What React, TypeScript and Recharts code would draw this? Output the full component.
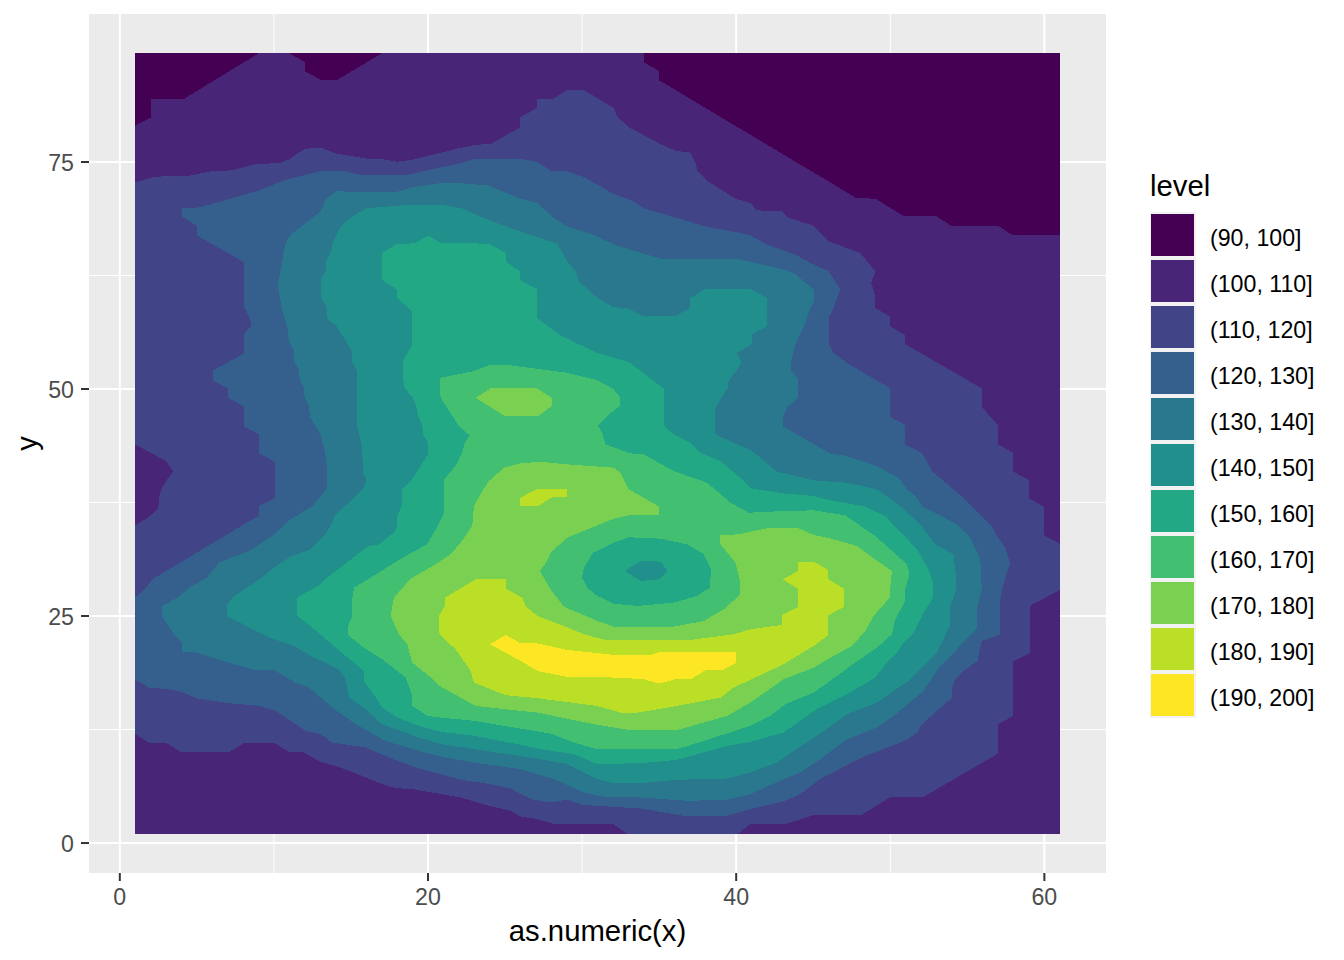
import { ComposedChart, Scatter, XAxis, YAxis, CartesianGrid, Legend } from "recharts";

type Pt = [number, number];

// legend
const levels = ["(90, 100]", "(100, 110]", "(110, 120]", "(120, 130]", "(130, 140]", "(140, 150]", "(150, 160]", "(160, 170]", "(170, 180]", "(180, 190]", "(190, 200]"];
const colors = ["#440154", "#482576", "#414487", "#35608D", "#2A788E", "#21908C", "#22A884", "#43BF71", "#7AD151", "#BBDF27", "#FDE725"];

const xTicks = [0, 20, 40, 60];
const yTicks = [0, 25, 50, 75];
const xMinor = [10, 30, 50];
const yMinor = [12.5, 37.5, 62.5];

// contour outlines, in data units
const whole: Pt[] = [[1, 1], [61, 1], [61, 87], [1, 87]];

const low100Left: Pt[] = [[1, 87], [9.04, 87], [4.17, 81.96], [2, 81.96], [2, 79.9], [1, 79]];
const low100Mid: Pt[] = [[11, 87], [12, 86], [12, 85], [13.04, 84.05], [14.12, 84.05], [17.03, 87]];
const low100Right: Pt[] = [[34, 87], [34, 86], [35, 85], [35, 84], [40.92, 78], [47.8, 71.03], [49.03, 70.96], [50.91, 69], [53, 69], [53.95, 68], [56.96, 68], [57.89, 67], [61, 67], [61, 87]];

const over110: Pt[] = [
  [1, 72.75], [2, 73.27], [3.2, 73.5], [4.5, 73.5], [6, 74], [7.3, 74.08], [8.8, 74.77], [10.33, 74.88], [11, 75.3], [12, 76.46], [13.04, 76.57], [14, 75.95], [16.06, 75.36], [17.03, 75.3], [18, 75.03], [19, 75.25], [20.17, 75.76],
  [21.9, 76.46], [23.09, 76.9], [24.06, 76.97], [26, 78.84], [26, 79.94], [27.05, 80.93], [27.05, 81.96], [28.13, 81.96], [29.03, 82.95], [30.07, 82.95], [32.06, 80.93], [32.28, 80], [33.03, 78.84], [35.09, 76.97], [36.06, 76.24], [37.03, 76.02], [37.36, 74.88], [37.49, 73.97], [38.11, 72.94], [39.95, 70.96], [40.92, 70.48],
  [41.31, 69.75], [41.89, 69.56], [42.97, 69.56], [43.34, 68.9], [44.98, 68], [46, 66.26], [48.05, 64.98], [49.03, 62.96], [48.77, 61.68], [49.03, 60.2], [49.03, 58.93], [50, 57.94], [50, 56.92], [50.97, 55.89], [50.97, 54.94], [55.94, 50.06], [55.94, 48], [56.98, 46.03], [56.98, 43.9], [57.98, 42.98], [57.98, 40.89], [58.99, 39.97], [58.99, 37.96], [59.99, 37.04], [59.99, 33.89], [61, 32.97],
  [61, 27.87], [59.04, 26.1], [59.04, 20.9], [57.98, 19.98], [57.98, 14], [57, 13.09], [57, 9.86], [52.12, 5.06], [50, 5.06], [48.12, 3.08], [45.03, 3.08], [43.19, 2.09], [40.92, 2.09], [40.1, 1], [32.93, 1], [32.02, 2.09],
  [28.17, 2.09], [27.09, 2.64], [26, 2.93], [25.36, 3.55], [23.95, 4.1], [22.12, 5.02], [18.98, 5.94], [17.9, 6.05], [17.03, 6.49], [16.06, 7.15], [14.87, 7.95], [14, 8.5], [13.03, 8.94], [11.95, 9.97], [10.98, 10.04], [10.05, 11], [8.06, 11], [7.09, 10.04], [3.96, 10.04], [3.03, 11], [1.95, 11], [1, 12],
  [1, 34.99], [1.9, 35.94], [2.5, 36.82], [2.55, 38.03], [2.72, 39.13], [3.48, 40.97], [2.98, 42.07], [1, 43.9],
];

const over120: Pt[] = [
  [1, 27.02], [1.69, 28.12], [2.12, 29.05], [8.06, 35.1], [9, 36], [9, 37.1], [10.05, 37.96], [10.05, 41.99], [9.04, 42.9], [9.04, 45], [8.04, 45.9], [8.04, 48.1], [7, 49.03], [7, 50.06], [6.05, 50.98], [6.05, 52.04], [8.04, 53.9], [8.04, 55.99], [8.5, 56.92], [8.5, 57.47], [8.17, 58.75],
  [8.04, 59.1], [8.04, 64], [5, 66.9], [5, 68], [4.02, 68.98], [4.02, 69.93], [5.19, 70], [7.3, 71.03], [9.04, 71.87], [10.77, 73.05], [12.06, 73.6], [13.14, 74.04], [14.44, 74.04], [15.74, 73.53], [18.55, 73.53], [19.85, 74.04],
  [20.82, 74.4], [21.9, 74.77], [23.09, 75.36], [26, 75.36], [27.09, 75], [27.95, 74.04], [28.93, 74.04], [30.12, 73.34], [32.06, 71.47], [33.36, 70.66], [34, 69.9], [35.95, 68.94], [38, 67.9], [40.27, 67.18],
  [40.92, 66.92], [42, 65.9], [43.84, 64.8], [44.81, 63.88], [46, 62.96], [46.76, 60.95], [46.22, 58.5], [46, 57.94], [46, 54.94], [46.32, 53.98], [47.19, 52.88], [50, 50.06], [50, 46.94], [50.97, 46.03], [50.97, 43.9], [52.05, 42.98], [52.74, 40.89], [54.75, 38.03], [56.59, 34.91], [56.92, 33.81], [57.46, 32.53], [57.78, 30.88],
  [57.39, 28.86], [57.13, 26.84], [57.13, 22.92], [55.94, 22.26], [55.66, 20.06], [54.75, 18.96], [54.21, 18.04], [54, 16.94], [54, 16.02], [52.05, 13.09], [51.73, 12.17], [51.08, 11.36], [48.05, 9.35], [45.46, 7.04], [44.16, 5.39], [43.19, 4.65], [40.92, 3.74],
  [39.41, 3], [36.82, 2.93], [33.79, 3.81], [30.12, 4.18], [29.03, 4.77], [27.95, 4.47], [26.66, 4.84], [25.36, 6.01], [24.06, 6.49], [22.12, 6.97], [20.82, 7.59],
  [19.41, 8.21], [18.01, 9.05], [15.95, 10.52], [13.79, 11.07], [13.03, 11.99], [12.06, 12.35], [10.12, 14.56], [9.04, 15.1], [7.09, 15.4], [5.04, 15.91], [3.96, 16.68], [2.98, 17], [2.01, 17.05], [1, 17.93],
];

const over130: Pt[] = [
  [2.72, 25.08], [2.72, 26.1], [3.74, 27], [4.5, 28.12], [5.58, 29.12], [6.44, 30.88], [7.52, 31.61], [8.39, 32.16], [9.9, 33.81], [11.09, 35.65], [12.5, 37.12], [13.47, 39.13], [13.47, 41.15], [13.3, 43.17], [13.03, 45], [12.34, 46.94], [12.28, 48.1], [12, 49], [11.95, 50.13], [11.67, 51.05], [11.63, 52.15], [11.3, 53.07], [11.3, 54.17], [10.98, 55.27], [10.87, 56.92], [10.55, 58.5],
  [10.29, 61.13], [10.29, 61.86], [10.55, 64.06], [10.72, 65.9], [11.09, 67], [13.03, 69.56], [13.36, 70.85], [14.05, 71.77], [16.06, 71.69], [17.9, 71.69], [18.98, 72.2], [20.82, 72.68],
  [21.9, 72.68], [23.85, 72.43], [26, 70.96], [27.09, 70.48], [28.17, 68.83], [29.03, 67.91], [30.98, 66.81], [32.06, 65.9], [35.09, 64.36], [39.95, 64.36], [40.92, 64],
  [43.08, 63.15], [43.73, 62.78], [45.03, 60.95], [45.03, 59.66], [44.77, 58.75], [44.49, 57.28], [43.84, 54.94], [43.56, 52.96], [43.56, 52.04], [44.01, 51.12], [44.01, 49.03], [43.34, 48], [43.02, 46.94], [43.02, 45.92], [46.06, 42.91], [47.19, 42.62], [49.13, 41.51], [49.89, 40.78], [50.54, 40.23], [51.08, 38.95], [51.62, 38.22], [52.1, 37.04], [54.32, 35.1], [55.19, 33.63], [55.84, 31.25],
  [55.94, 27.94], [55.66, 26.1], [55.66, 23.72], [54.32, 21.34], [53.24, 19.5], [52.16, 16.76], [50.22, 14], [49.13, 12.72], [47.08, 11.33], [45.46, 9.24], [44.16, 7.77], [43.08, 7.04], [40.92, 5.39],
  [39.41, 4.76], [36.82, 4.65], [33.79, 5.02], [31.63, 5.02], [30.12, 5.57], [28.17, 7.04], [26, 8.14], [22.98, 8.87], [20.82, 9.53],
  [19.41, 10.15], [17.25, 11.25], [15.3, 13.09], [13.79, 14.92], [12.28, 17.12], [11.41, 17.67], [10.01, 19.03], [8.82, 19.03], [6.87, 19.95], [5.04, 20.97], [4.02, 21.05], [4.02, 22.15], [3.52, 22.99],
];

const over140: Pt[] = [
  [6.98, 26.29], [7.31, 27.02], [8.06, 27.94], [9.14, 29.12], [10, 30.33], [11.09, 31.54], [12.28, 32.27], [13.25, 33.81], [13.68, 34.91], [14.01, 36.2], [15.09, 37.85], [15.85, 39.13], [16, 39.94], [15.78, 40.78], [15.74, 42.98], [15.65, 44.27], [15.37, 46.1], [15.37, 52.04], [15.05, 53.07], [15.05, 54.17], [14.55, 55.63], [14.05, 56.92], [13.47, 57.83], [13.47, 58.93],
  [13.03, 60.03], [13.03, 62.05], [13.36, 62.96], [13.36, 64.06], [13.73, 65.16], [13.79, 66.08], [14.33, 67.91], [15.09, 69.02], [16.06, 69.93], [18.98, 70.3], [20.82, 70.3],
  [22.12, 69.93], [23.63, 68.83], [24.71, 68.1], [26.55, 67], [28.39, 66.01], [29.03, 64.06], [29.58, 62.96], [29.79, 61.86], [30.98, 60.03], [32.06, 59], [32.93, 58.93], [34, 58.02], [36.06, 58.02], [37.03, 58.93], [37.03, 60.03], [38, 61], [40.92, 61],
  [42, 60.03], [42, 56.92], [41.03, 56], [40.99, 54.9], [40.02, 53.98], [40.34, 52.96], [40.02, 51.97], [39.52, 51.05], [39.45, 50.13], [38.65, 47.93], [38.65, 45], [39.84, 44.08], [40.92, 43.28],
  [41.57, 42.43], [42.65, 40.89], [45.03, 39.94], [47.19, 39.68], [49.13, 38.95], [50.65, 37.11], [51.94, 35.1], [52.92, 32.9], [54.1, 31.8], [54.28, 29.12],
  [54.28, 27.94], [53.85, 25.92], [53.85, 23.91], [53.03, 20.97], [51.19, 17.86], [49.13, 15.47], [47.19, 14.19], [45.57, 12.17], [43.73, 10.15], [42.65, 8.87], [40.92, 7.77],
  [39.41, 7.11], [36.17, 6.96], [33.79, 6.6], [32.06, 6.6], [30.98, 7.04], [29.03, 8.69], [27.3, 9.24], [25.14, 9.79], [22.98, 10.34], [20.82, 10.89],
  [19.41, 11.62], [17.03, 13.09], [15.95, 14.74], [14.87, 16.02], [14.66, 18.04], [14.22, 19.14], [12.5, 20.53], [11.2, 21.78], [10.01, 22.44], [8.6, 23.54], [6.98, 25.01],
];

const over150: Pt[] = [
  [11.52, 27.02], [13.03, 28.49], [13.36, 29.12], [14.44, 30.51], [16.06, 32.64], [16.82, 32.9], [17.79, 34.18], [18.01, 34.91], [18.01, 36.02], [18.33, 37.3], [18.33, 39.02], [18.98, 40.05], [20.02, 42.91], [20.02, 44.08], [19.67, 45], [19.63, 46.1], [19.37, 47.02], [19.2, 48.3], [18.98, 49.14], [18.5, 50.06], [18.37, 51.05], [18.37, 53.07], [18.98, 54.9], [18.98, 58.56],
  [18, 60.03], [18, 60.95], [17.03, 61.97], [17, 64.98], [18, 65.97], [19.09, 66.04], [20.06, 66.89], [20.82, 66.08],
  [23.95, 66.01], [25.04, 64.98], [25.04, 64], [26, 62.96], [26, 61.97], [27.05, 61], [27.05, 57.83], [28.6, 55.89], [30.98, 53.98], [33.03, 52.96], [35.3, 50.06], [35.35, 45.92], [35.95, 45], [37.03, 44.08], [37.68, 42.98], [38.98, 42.07], [40.38, 40.05], [40.92, 39.06],
  [43.08, 38.51], [45.03, 38.22], [46, 37.77], [48.27, 37.11], [49.67, 36.02], [51.73, 32.35], [52.48, 30.15], [52.77, 28.67], [52.77, 27.02], [52.16, 25.37], [51.51, 23.17], [50.86, 22.07], [50.43, 20.97], [49.78, 19.87], [49.03, 18.22], [47.19, 16.39], [45.24, 14.74], [44.59, 14], [43.08, 12.17], [40.92, 11.14],
  [39.41, 10.7], [36.17, 9.16], [33.79, 8.8], [30.98, 8.69], [29.47, 9.79], [27.3, 10.34], [25.79, 10.89], [22.98, 11.81], [20.82, 12.25],
  [19.41, 12.9], [18.01, 13.82], [17.03, 14.92], [16.38, 16.57], [15.84, 17.86], [15.84, 18.96], [14.01, 21.52], [12.5, 23.72], [11.52, 25.01],
];

const over160: Pt[] = [
  [14.81, 23.91], [15.09, 25.01], [15.09, 27.02], [15.2, 28.12], [16.17, 29.12], [17.14, 30.15], [18.55, 31.61], [19.95, 32.9], [20.5, 34.55], [21.04, 36.38], [21.04, 40.05], [21.79, 41.51], [22.23, 42.98], [22.38, 44.08], [22.7, 44.89], [22.01, 45.92], [20.82, 49.03],
  [20.75, 50.68], [20.82, 51.23], [22.98, 51.97], [24.06, 52.7], [24.93, 52.7], [27.09, 52.22], [29.03, 51.78], [30.98, 50.98], [32.06, 49.95], [32.49, 49.03], [32.43, 48.12], [31.74, 47.2], [31.02, 45.99], [31.3, 45.18], [31.52, 43.9], [33.14, 42.91], [34, 42.8], [35.95, 40.96], [38.11, 39.68], [39.63, 37.48], [40.82, 36.38],
  [43.08, 36.56], [45.03, 36.64], [47.08, 36.09], [49.03, 33.81], [51.08, 30.7], [51.25, 29.6], [50.97, 27.94], [50.97, 26.66], [50.32, 24.64], [50.11, 22.99], [49.13, 21.52], [47.41, 19.5], [46.11, 17.86], [45.03, 16.57], [43.19, 15.29], [42.22, 14], [40.92, 12.9],
  [37.9, 11.25], [36.17, 10.34], [33.79, 10.41], [30.98, 10.34], [29.47, 11.07], [27.95, 12.06], [26.22, 12.54], [22.98, 13.46], [20.82, 13.82],
  [19.95, 14], [18.98, 15.1], [18.98, 16.2], [18.55, 18.22], [17.03, 20.24], [15.84, 21.52], [14.81, 22.92],
];

const over170: Pt[] = [
  [17.57, 25.01], [17.79, 27.02], [18.87, 29.12], [19.95, 30.15], [20.82, 31.06], [21.47, 31.8], [22.12, 33.08], [22.87, 34.91], [22.98, 37.12], [23.59, 38.95], [23.95, 39.87], [24.93, 41.33], [26, 41.81], [27.3, 41.99], [29.03, 41.7], [32.06, 41.33], [32.49, 40.78], [33.03, 38.95], [35.02, 37.04], [35.02, 36.13], [33.03, 36.09], [32.06, 35.72], [29.03, 33.63], [27.95, 31.98], [27.74, 31.06], [27.26, 29.96],
  [27.95, 27.94], [28.82, 26.03], [30.98, 24.46], [32.06, 23.83], [35.95, 23.83], [37.9, 24.46], [39.2, 25.74], [40.27, 27.39], [40.27, 28.67], [39.95, 30.88], [38.98, 32.9], [38.98, 33.92], [40.27, 34], [40.92, 34.29],
  [42, 34.66], [44.05, 34.66], [45.03, 33.92], [46.1, 33.56], [47.84, 32.71], [48.7, 31.61], [50.11, 29.96], [49.96, 27.57], [49.96, 27.02], [48.92, 25.01], [48.38, 23.36], [47.51, 21.71], [46.11, 20.42], [45.03, 19.32], [43.08, 18.04], [40.92, 15.47],
  [39.41, 14], [36.17, 12.43], [33.14, 12.43], [30.76, 13.09], [27.09, 14.37], [25.36, 14.67], [23.09, 15.1], [20.82, 17.23],
  [20.06, 18.41], [18.98, 19.87], [18.65, 21.89], [18.11, 22.99],
];
const peak170: Pt[] = [[23.09, 49.03], [24.06, 50.06], [27.09, 50.06], [28.02, 49.03], [28.02, 48.12], [27.15, 47.02], [25, 47.02]];

const over180: Pt[] = [
  [21.1, 27.02], [23.09, 29.04], [25.04, 29.04], [25.04, 28.01], [26.12, 27.02], [26.33, 26.1], [27.09, 25.01], [28.82, 23.91], [30.12, 22.99], [31.52, 22.37], [37.03, 22.37], [39.84, 22.99], [40.92, 23.54],
  [42.97, 24.02], [42.97, 25.08], [44.01, 26], [44.01, 28.01], [43.02, 29.04], [44.01, 29.96], [44.01, 30.99], [45.03, 30.99], [45.98, 30.07], [45.98, 29.04], [47, 28.01], [47, 26.03], [45.98, 25.08], [45.98, 22.92], [45.03, 21.71], [43.08, 19.69], [40.92, 17.97],
  [39.84, 17.12], [38.98, 16.02], [35.95, 15.03], [33.36, 14.3], [32.49, 14.37], [30.98, 15.1], [27.09, 15.95], [25.04, 16.28], [22.98, 17.67], [22.77, 18.96], [21.79, 21.34], [21.14, 22.33], [20.75, 22.99], [20.71, 25.01], [21.1, 26.1],
];
const peak180: Pt[] = [[26, 38.03], [27.09, 39.02], [28.99, 39.02], [28.99, 38.1], [28.06, 38.1], [27.15, 37.11], [26, 37.11]];

const over190: Pt[] = [[24.02, 21.89], [25.04, 22.92], [26, 22], [27.09, 22], [29.03, 21.27], [32.06, 20.72], [34.44, 20.72], [35.09, 21.05], [40.02, 21.05], [40.02, 19.87], [39.09, 19.03], [38, 19.03], [37.14, 18.11], [36.06, 18.04], [34.98, 17.56], [34, 18.04], [32.28, 18.22], [29.03, 18.3], [27.09, 18.96], [26, 20.06]];

// crater in the middle
const crater150: Pt[] = [[30, 29.22], [30.12, 30.33], [30.72, 31.98], [32.06, 33.08], [33.03, 33.67], [35.09, 33.52], [36.82, 32.9], [37.9, 31.8], [38.37, 30.15], [38.29, 28.12], [37.46, 27.21], [35.95, 26.47], [33.57, 26.11], [32.06, 26.36], [30.98, 27.21], [30.33, 28.12]];
const crater140: Pt[] = [[32.77, 29.96], [33.79, 31.06], [35.09, 30.99], [35.56, 29.96], [34.98, 29.04], [33.79, 28.86]];

const layers: [Pt[], number][] = [
  [whole, 1], [low100Left, 0], [low100Mid, 0], [low100Right, 0],
  [over110, 2], [over120, 3], [over130, 4], [over140, 5], [over150, 6], [over160, 7],
  [over170, 8], [peak170, 8], [over180, 9], [peak180, 9], [over190, 10],
  [crater150, 6], [crater140, 5],
];

const font = "'Liberation Sans', Arial, sans-serif";

function LevelLegend() {
  return (
    <div style={{ fontFamily: font, color: "#000" }}>
      <div style={{ fontSize: 29.3, lineHeight: "34px", height: 43 }}>level</div>
      {levels.map((label, i) => (
        <div key={label} style={{ position: "relative", height: 46, width: 190 }}>
          <div style={{ position: "absolute", left: 0, top: 0, width: 46, height: 46, background: "#F2F2F2" }} />
          <div style={{ position: "absolute", left: 1, top: 2, width: 43, height: 42, background: colors[i] }} />
          <div style={{ position: "absolute", left: 60, top: 11, fontSize: 23.2, lineHeight: "30px", whiteSpace: "nowrap" }}>{label}</div>
        </div>
      ))}
    </div>
  );
}

export default function App() {
  return (
    <div style={{ position: "absolute", left: 0, top: 0, width: 1344, height: 960, background: "#fff" }}>
      <ComposedChart width={1344} height={960} margin={{ top: 14, right: 238, left: 20, bottom: 27 }}>
        <CartesianGrid fill="#EBEBEB" stroke="#fff" strokeWidth={2} syncWithTicks />
        <CartesianGrid fill="none" stroke="#fff" strokeWidth={1} horizontalValues={yMinor} verticalValues={xMinor} syncWithTicks />
        <XAxis
          type="number"
          dataKey="x"
          domain={[-2, 64]}
          ticks={xTicks}
          interval={0}
          allowDataOverflow
          axisLine={false}
          height={60}
          tickSize={8}
          tickMargin={8}
          tickLine={{ stroke: "#333", strokeWidth: 2 }}
          tick={{ fill: "#4D4D4D", fontSize: 23.2, fontFamily: font }}
          label={{ value: "as.numeric(x)", position: "insideBottom", offset: -8, fill: "#000", fontSize: 29.3, fontFamily: font }}
        />
        <YAxis
          type="number"
          dataKey="y"
          domain={[-3.3, 91.3]}
          ticks={yTicks}
          interval={0}
          allowDataOverflow
          axisLine={false}
          width={69}
          tickSize={8}
          tickMargin={7}
          tickLine={{ stroke: "#333", strokeWidth: 2 }}
          tick={{ fill: "#4D4D4D", fontSize: 23.2, fontFamily: font, dy: 1 }}
          label={{ value: "y", angle: -90, position: "insideLeft", offset: 7, textAnchor: "middle", fill: "#000", fontSize: 29.3, fontFamily: font }}
        />
        {layers.map(([pts, c], i) => (
          <Scatter
            key={i}
            data={pts.map(([x, y]) => ({ x, y }))}
            isAnimationActive={false}
            fill={colors[c]}
            shape={() => null}
            line={{ fill: colors[c], stroke: "none", shapeRendering: "crispEdges" }}
            legendType="none"
          />
        ))}
        <Legend
          layout="vertical"
          align="center"
          verticalAlign="middle"
          wrapperStyle={{ position: "absolute", left: 1150, top: 169, width: 194 }}
          content={() => <LevelLegend />}
        />
      </ComposedChart>
    </div>
  );
}
